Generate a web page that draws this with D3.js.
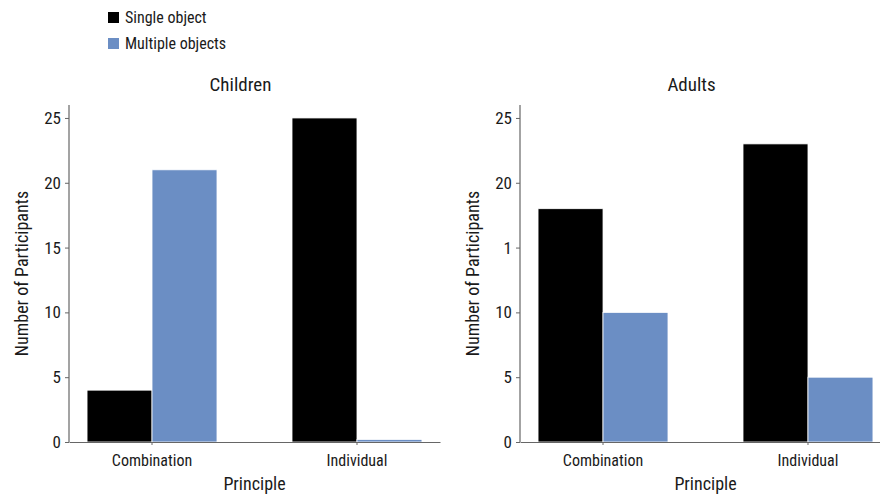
<!DOCTYPE html>
<html>
<head>
<meta charset="utf-8">
<script src="https://cdn.jsdelivr.net/npm/d3@7"></script>
<style>
  body { margin: 0; background: #fff; }
  svg text { font-family: "Liberation Sans Narrow", "Roboto Condensed", "Liberation Sans", sans-serif; fill: #1a1a1a; }
</style>
</head>
<body>
<svg id="chart" width="880" height="495"></svg>
<script>
'use strict';

// values
const categories = ["Combination", "Individual"];
const seriesNames = ["Single object", "Multiple objects"];
const seriesColors = ["#000000", "#6b8ec4"];
const childrenSingle = [4, 25];
const childrenMultiple = [21, 0.2];
const adultsSingle = [18, 23];
const adultsMultiple = [10, 5];
const yTicks = [0, 5, 10, 15, 20, 25];
const childrenTickLabels = ["0", "5", "10", "15", "20", "25"];
const adultsTickLabels = ["0", "5", "10", "1", "20", "25"];

const svg = d3.select("#chart");
const yTop = 105, yBase = 442;

var y = d3.scaleLinear().domain([0, 26]).range([yBase, yTop]);

var drawPanel = function(left, title, single, multiple, tickLabels) {
  const w = 371;
  const x = d3.scaleBand()
    .domain(categories)
    .range([left, left + w])
    .paddingInner(0.366)
    .paddingOuter(0.088);
  const xs = d3.scaleBand()
    .domain(seriesNames)
    .range([0, x.bandwidth()]);

  const g = svg.append("g");

  const rows = categories.map((c, i) => ({cat: c, vals: [single[i], multiple[i]]}));

  g.selectAll("g.grp")
    .data(rows)
    .enter()
    .append("g")
    .attr("class", "grp")
    .attr("transform", d => "translate(" + x(d.cat) + ",0)")
    .selectAll("rect")
    .data(d => d.vals.map((v, j) => ({v: v, s: seriesNames[j], c: seriesColors[j]})))
    .enter()
    .append("rect")
    .attr("x", d => xs(d.s))
    .attr("y", d => y(d.v))
    .attr("width", xs.bandwidth())
    .attr("height", d => yBase - y(d.v))
    .attr("fill", d => d.c)
    .attr("stroke", "#fff")
    .attr("stroke-width", 0.8);

  // y axis
  const yAxis = d3.axisLeft(y)
    .tickValues(yTicks)
    .tickSize(4)
    .tickSizeOuter(0)
    .tickPadding(4)
    .tickFormat((d, i) => tickLabels[i]);
  const ya = g.append("g")
    .attr("transform", "translate(" + left + ",0)")
    .call(yAxis);
  ya.select(".domain").attr("d", "M0," + yTop + "V" + yBase).attr("stroke", "#666").attr("stroke-width", 1.2);
  ya.selectAll(".tick line").attr("stroke", "#666");
  ya.selectAll(".tick text").attr("font-size", 17).attr("fill", "#1a1a1a");

  // x axis
  const xAxis = d3.axisBottom(x).tickSize(3).tickSizeOuter(0).tickPadding(10);
  const xa = g.append("g")
    .attr("transform", "translate(0," + yBase + ")")
    .call(xAxis);
  xa.select(".domain").attr("stroke", "#666").attr("stroke-width", 1.2);
  xa.selectAll(".tick line").attr("stroke", "#666");
  xa.selectAll(".tick text").attr("font-size", 16).attr("fill", "#1a1a1a");

  g.append("text")
    .attr("x", left + w / 2)
    .attr("y", 490)
    .attr("text-anchor", "middle")
    .attr("font-size", 18)
    .text("Principle");

  g.append("text")
    .attr("transform", "translate(" + (left - 41) + "," + ((yTop + yBase) / 2) + ") rotate(-90)")
    .attr("text-anchor", "middle")
    .attr("font-size", 18)
    .text("Number of Participants");

  g.append("text")
    .attr("x", left + w / 2 - 14)
    .attr("y", 91)
    .attr("text-anchor", "middle")
    .attr("font-size", 19)
    .text(title);
};

drawPanel(69, "Children", childrenSingle, childrenMultiple, childrenTickLabels);
drawPanel(520, "Adults", adultsSingle, adultsMultiple, adultsTickLabels);

// legend
const leg = svg.append("g").selectAll("g")
  .data(seriesNames)
  .enter()
  .append("g")
  .attr("transform", (d, i) => "translate(108," + (12 + i * 26) + ")");
leg.append("rect")
  .attr("width", 11)
  .attr("height", 11)
  .attr("fill", (d, i) => seriesColors[i]);
leg.append("text")
  .attr("x", 17)
  .attr("y", 11)
  .attr("font-size", 16)
  .text(d => d);
</script>
</body>
</html>
